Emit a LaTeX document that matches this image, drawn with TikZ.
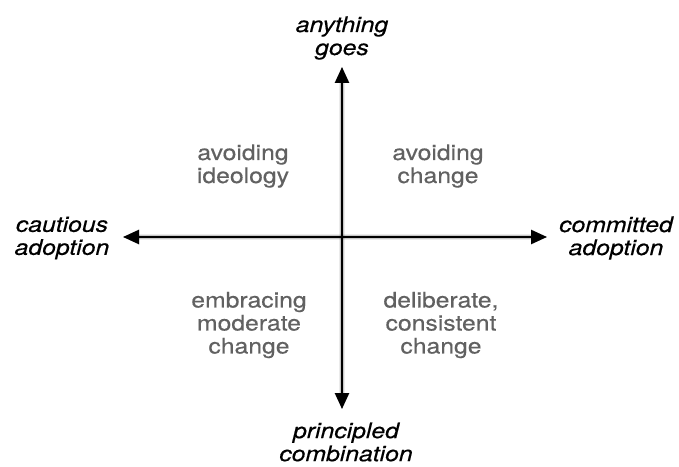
\documentclass[tikz,border=0pt]{standalone}
\usepackage{fontspec}
\setmainfont{TeX Gyre Heros}[FakeStretch=1.15,FakeBold=0.4]
\usetikzlibrary{arrows.meta}
\definecolor{qgray}{HTML}{616161}
\begin{document}
\begin{tikzpicture}[x=1pt,y=1pt,
  axislabel/.style={font=\fontsize{21.5}{23}\selectfont\itshape, align=center, text=black, inner sep=0pt},
  quadlabel/.style={font=\fontsize{21.5}{23}\selectfont, align=center, text=qgray, inner sep=0pt},
  axis/.style={line width=2pt, {Triangle[length=16pt,width=14pt]}-{Triangle[length=16pt,width=14pt]}},
  shade1/.style={line width=6pt, draw=black, opacity=0.08, {Triangle[length=16pt,width=14pt]}-{Triangle[length=16pt,width=14pt]}},
  shade2/.style={line width=3.5pt, draw=black, opacity=0.15, {Triangle[length=16pt,width=14pt]}-{Triangle[length=16pt,width=14pt]}}
]
\useasboundingbox[fill=white] (0,0) rectangle (679,466);
\coordinate (top) at (342,399);
\coordinate (bottom) at (342,57);
\coordinate (left) at (123,229);
\coordinate (right) at (547,229);
% shadows
\begin{scope}[shift={(3.5,-3.5)}]
  \draw[shade1] (bottom) -- (top);
  \draw[shade1] (left) -- (right);
  \draw[shade2] (bottom) -- (top);
  \draw[shade2] (left) -- (right);
\end{scope}
\draw[axis] (bottom) -- (top);
\draw[axis] (left) -- (right);
% labels
\node[axislabel] (ag) at (342,428) {anything\\goes};
\node[axislabel] (pc) at (346,24) {principled\\combination};
\node[axislabel] (ca) at (62,228) {cautious\\adoption};
\node[axislabel] (co) at (616,228) {committed\\adoption};
\node[quadlabel] (ai) at (243,300) {avoiding\\ideology};
\node[quadlabel] (ac) at (438,300) {avoiding\\change};
\node[quadlabel] (em) at (249,141) {embracing\\moderate\\change};
\node[quadlabel] (dc) at (441,141) {deliberate,\\consistent\\change};
\end{tikzpicture}
\end{document}
